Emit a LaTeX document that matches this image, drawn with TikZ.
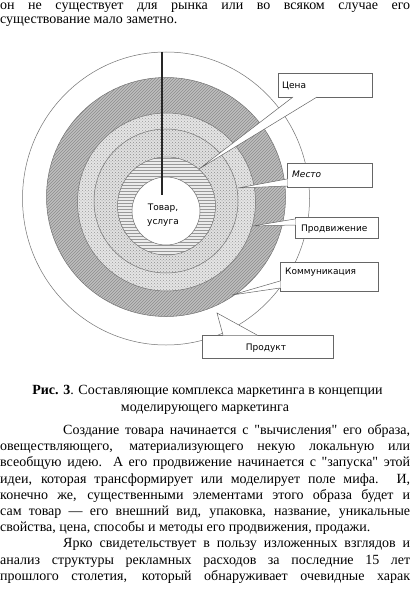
\documentclass[tikz,border=0pt]{standalone}
\usepackage{fontspec}
\setmainfont{Liberation Serif}[Ligatures=TeXOff]
\newfontfamily\labfont{DejaVu Sans}
\usetikzlibrary{patterns,calc}
\begin{document}
\begin{tikzpicture}[x=1pt,y=-1pt,
  ringline/.style={draw=black!55,line width=0.5pt},
  lbox/.style={draw=black!60,line width=0.5pt,fill=white,anchor=north west,inner sep=0pt},
  ltext/.style={anchor=base west,inner sep=0pt,font=\labfont\fontsize{9}{10}\selectfont},
  wline/.style={draw=black!60,line width=0.5pt},
  bodyline/.style={anchor=base west,inner sep=0pt,font=\fontsize{14}{16}\selectfont},
  capline/.style={anchor=base,inner sep=0pt,font=\fontsize{14}{16}\selectfont},
]
\useasboundingbox (0,0) rectangle (410,594);
\fill[white] (0,0) rectangle (410,594);

% ---- top text
\node[bodyline] (t1) at (0,9.5) {\makebox[410pt][s]{он не существует для рынка или во всяком случае его}};
\node[bodyline] (t2) at (0,23.5) {существование мало заметно.};

% ---- rings
\coordinate (c6) at (166,198.5);
\coordinate (c5) at (166,197);
\coordinate (c4) at (166.5,202);
\coordinate (c3) at (166,201);
\coordinate (c2) at (166.5,206);
\coordinate (c1) at (166,211);

\draw[ringline,fill=white] (c6) circle[x radius=143.5,y radius=146.5];

\path[fill=black!25] (c5) circle[radius=119.5];
\path[pattern=north east lines,pattern color=black!45] (c5) circle[radius=119.5];
\draw[ringline] (c5) circle[radius=119.5];

\path[fill=black!10] (c4) circle[radius=89];
\path[pattern=crosshatch dots,pattern color=black!40] (c4) circle[radius=89];
\draw[ringline] (c4) circle[radius=89];

\path[fill=black!12] (c3) circle[radius=72];
\path[pattern=crosshatch dots,pattern color=black!45] (c3) circle[radius=72];
\draw[ringline] (c3) circle[radius=72];

\path[fill=black!8] (c2) circle[radius=49];
\path[pattern=horizontal lines,pattern color=black!40] (c2) circle[radius=49];
\draw[ringline] (c2) circle[radius=49];

\draw[ringline,fill=white] (c1) circle[radius=34];

% ---- axis line
\coordinate (vtop) at (162,52);
\coordinate (vend) at (162,195);
\draw[line width=1.4pt,black!85] (vtop) -- (vend);

\node[align=center,inner sep=0pt,font=\labfont\fontsize{9}{14}\selectfont] (core) at (163,215) {Товар,\\услуга};

% ---- label boxes
\node[lbox,minimum width=94pt,minimum height=24pt] (cena) at (278,73) {};
\node[ltext] (cenat) at (282,88.5) {Цена};
\node[lbox,minimum width=85pt,minimum height=24pt] (mesto) at (287,163) {};
\node[ltext] (mestot) at (292,177.5) {\itshape Место};
\node[lbox,minimum width=83pt,minimum height=21pt] (prodv) at (295,217) {};
\node[ltext] (prodvt) at (301,231) {Продвижение};
\node[lbox,minimum width=98pt,minimum height=29pt] (komm) at (280,262) {};
\node[ltext] (kommt) at (285,274.5) {Коммуникация};
\node[lbox,minimum width=131pt,minimum height=23pt] (produkt) at (202,335) {};
\node[ltext,anchor=base] (produktt) at (266,350.5) {Продукт};

% ---- callout wedges
\newcommand\callwedge[3]{%
  \fill[white] (#1) -- ($(#1)!1.012!(#2)$) -- ($(#1)!1.012!(#3)$) -- cycle;
  \draw[wline] (#2) -- (#1) -- (#3);}
\coordinate (cenaA) at (293,97);
\coordinate (cenaB) at (317,97);
\coordinate (cenaTip) at (199,169);
\callwedge{cenaTip}{cenaA}{cenaB}
\coordinate (mestoA) at (287,179);
\coordinate (mestoB) at (287,186);
\coordinate (mestoTip) at (238,188);
\callwedge{mestoTip}{mestoA}{mestoB}
\coordinate (prodvA) at (295,219);
\coordinate (prodvB) at (295,225);
\coordinate (prodvTip) at (252.5,226);
\callwedge{prodvTip}{prodvA}{prodvB}
\coordinate (kommA) at (280,281);
\coordinate (kommB) at (280,288);
\coordinate (kommTip) at (232,295);
\callwedge{kommTip}{kommA}{kommB}
\coordinate (produktA) at (223,335);
\coordinate (produktB) at (257,335);
\coordinate (produktTip) at (217,313);
\callwedge{produktTip}{produktA}{produktB}

% ---- caption
\node[capline] (cap1) at (207.5,394.5) {\textbf{Рис. 3}. Составляющие комплекса маркетинга в концепции};
\node[capline] (cap2) at (205,411.5) {моделирующего маркетинга};

% ---- body text
\node[bodyline] (b1) at (63,434.5) {\makebox[347pt][s]{Создание товара начинается с "вычисления" его образа,}};
\node[bodyline] (b2) at (0,450.7) {\makebox[410pt][s]{овеществляющего, материализующего некую локальную или}};
\node[bodyline] (b3) at (0,466.9) {\makebox[410pt][s]{всеобщую идею. А его продвижение начинается с "запуска" этой}};
\node[bodyline] (b4) at (0,483.1) {\makebox[410pt][s]{идеи, которая трансформирует или моделирует поле мифа. И,}};
\node[bodyline] (b5) at (0,499.3) {\makebox[410pt][s]{конечно же, существенными элементами этого образа будет и}};
\node[bodyline] (b6) at (0,515.5) {\makebox[410pt][s]{сам товар — его внешний вид, упаковка, название, уникальные}};
\node[bodyline] (b7) at (0,531.7) {свойства, цена, способы и методы его продвижения, продажи.};
\node[bodyline] (b8) at (63,547.9) {\makebox[347pt][s]{Ярко свидетельствует в пользу изложенных взглядов и}};
\node[bodyline] (b9) at (0,564.1) {\makebox[410pt][s]{анализ структуры рекламных расходов за последние 15 лет}};
\node[bodyline] (b10) at (0,580.3) {\makebox[410pt][s]{прошлого столетия, который обнаруживает очевидные харак}};
\end{tikzpicture}
\end{document}
